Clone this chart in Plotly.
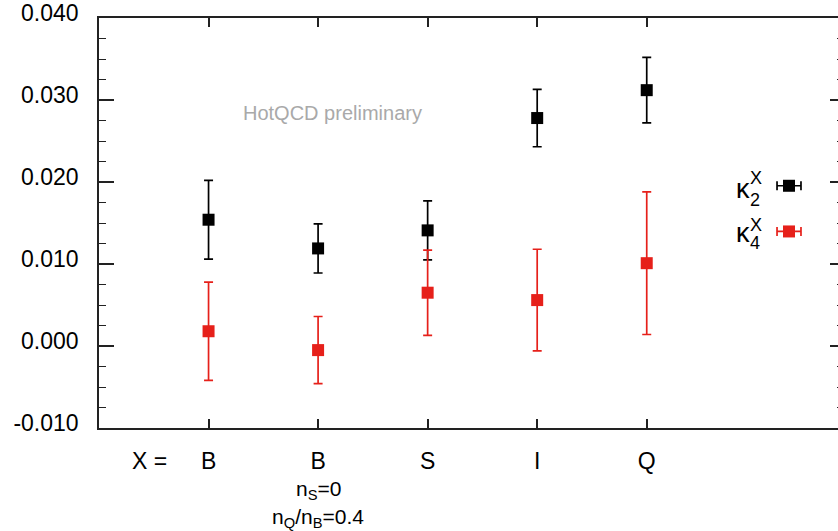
import plotly.graph_objects as go

# ---- data ----
categories = ["B", "B", "S", "I", "Q"]
x_pos = [1, 2, 3, 4, 5]
kappa2 = [0.0154, 0.0119, 0.0141, 0.0278, 0.0312]
kappa2_err = [0.0048, 0.0030, 0.0036, 0.0035, 0.0040]
kappa4 = [0.0018, -0.0005, 0.0065, 0.0056, 0.0101]
kappa4_err = [0.0060, 0.0041, 0.0052, 0.0062, 0.0087]
y_ticks = [-0.01, 0.0, 0.01, 0.02, 0.03, 0.04]
y_ticktext = ["-0.010", "0.000", "0.010", "0.020", "0.030", "0.040"]

RED = "#e6201a"
BLACK = "#000000"
FONT = "Liberation Sans, Arial, Helvetica, sans-serif"

fig = go.Figure()

def add_series(y, err, color):
    fig.add_trace(go.Scatter(
        x=x_pos, y=y, mode="markers",
        marker=dict(symbol="square", size=12, color=color, line=dict(width=0)),
        error_y=dict(type="data", array=err, visible=True, color=color,
                     thickness=1.7, width=4.5),
        showlegend=False, hoverinfo="skip",
    ))

add_series(kappa2, kappa2_err, BLACK)
add_series(kappa4, kappa4_err, RED)

# legend keys on a hidden overlay axis (fraction of plot area)
leg_x = 0.9337
leg_half = 0.0162
for yk, col in [(0.5908, BLACK), (0.4794, RED)]:
    fig.add_trace(go.Scatter(
        x=[leg_x], y=[yk], xaxis="x3", yaxis="y3", mode="markers",
        marker=dict(symbol="square", size=12, color=col),
        error_x=dict(type="constant", value=leg_half, visible=True, color=col,
                     thickness=1.7, width=4.5),
        showlegend=False, hoverinfo="skip",
    ))

anns = []
def ann(text, x, y, size, color="black", xref="paper", yref="paper", xanchor="center", yanchor="middle"):
    anns.append(dict(text=text, x=x, y=y, xref=xref, yref=yref, showarrow=False,
                     xanchor=xanchor, yanchor=yanchor,
                     font=dict(family=FONT, size=size, color=color)))

W_PLOT = 838 - 99
H_PLOT = 428 - 15
def px(xp):
    return (xp - 99) / W_PLOT
def py(yp):
    return (428 - yp) / H_PLOT

# legend labels
ann("κ", px(743), py(187), 27)
ann("X", px(756), py(176.5), 18)
ann("2", px(754.5), py(198.5), 18)
ann("κ", px(743), py(232), 27)
ann("X", px(756), py(223.5), 18)
ann("4", px(754.5), py(241.5), 18)

# watermark
ann("HotQCD preliminary", 2.13, 0.0284, 20, color="#a9a9a9", xref="x", yref="y")

# x labels extras
ann("X =", px(149.5), py(461.5), 23)
ann("n<sub>S</sub>=0", 2, py(490), 21, xref="x")
ann("n<sub>Q</sub>/n<sub>B</sub>=0.4", 2, py(519), 21, xref="x")

fig.update_layout(
    width=838, height=531,
    margin=dict(l=99, r=0, t=15, b=103),
    paper_bgcolor="white", plot_bgcolor="white",
    font=dict(family=FONT, size=23, color="black"),
    annotations=anns,
    xaxis=dict(
        range=[0, 6.746], tickmode="array", tickvals=x_pos, ticktext=categories,
        showline=True, linecolor="#222", linewidth=1.5, mirror="ticks",
        ticks="inside", ticklen=9, tickwidth=1.5, tickcolor="#222",
        showgrid=False, zeroline=False, tickfont=dict(size=23),
        ticklabelstandoff=12,
    ),
    yaxis=dict(
        range=[-0.01, 0.04], tickmode="array", tickvals=y_ticks, ticktext=y_ticktext,
        showline=True, linecolor="#222", linewidth=1.5, mirror=False,
        ticks="inside", ticklen=15, tickwidth=1.5, tickcolor="#222",
        minor=dict(dtick=0.0025, ticks="inside", ticklen=7, tickwidth=1.2, tickcolor="#222"),
        showgrid=False, zeroline=False, tickfont=dict(size=23),
        ticklabelstandoff=14, ticklabelshift=-5, ticklabeloverflow="allow",
    ),
    yaxis2=dict(
        overlaying="y", side="right", anchor="x", range=[-0.01, 0.04],
        tickmode="array", tickvals=y_ticks, showticklabels=False,
        ticks="inside", ticklen=8, tickwidth=1.5, tickcolor="#222",
        minor=dict(dtick=0.0025, ticks="inside", ticklen=1.5, tickwidth=1.2, tickcolor="#222"),
        showline=False, showgrid=False, zeroline=False,
    ),
    xaxis3=dict(overlaying="x", range=[0, 1], visible=False),
    yaxis3=dict(overlaying="y", range=[0, 1], visible=False, anchor="x3"),
)

# dummy trace to activate yaxis2
fig.add_trace(go.Scatter(x=[None], y=[None], yaxis="y2", showlegend=False, hoverinfo="skip"))

fig.write_html("out.html", config={"displayModeBar": False},
               post_script="document.body.style.margin='0';document.body.style.overflow='hidden';")
